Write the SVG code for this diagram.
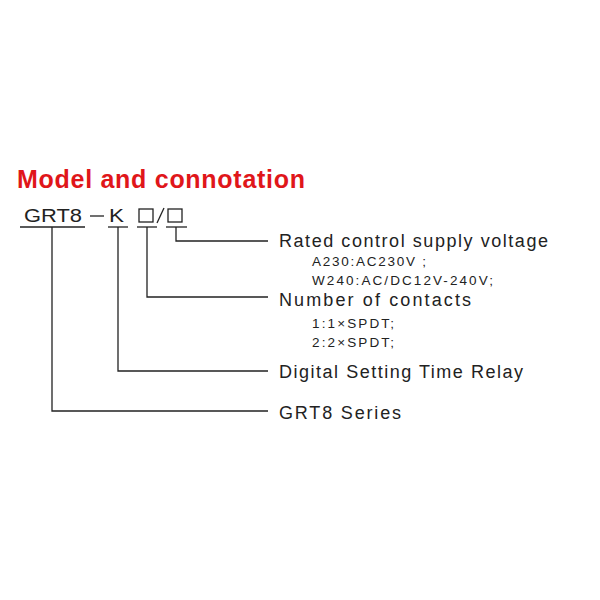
<svg xmlns="http://www.w3.org/2000/svg" width="600" height="600" viewBox="0 0 600 600">
<style>
text{font-family:"Liberation Sans",Arial,sans-serif;fill:#222}
.t{font-size:18px}
.s{font-size:13.5px}
.c path,.c line{stroke:#222;stroke-width:1.3;fill:none}
</style>
<rect width="600" height="600" fill="#fff"/>
<text x="17" y="188" textLength="288" lengthAdjust="spacing" style="font-size:25px;font-weight:bold;fill:#e0161a">Model and connotation</text>
<g id="model">
<text class="t" x="24" y="222" textLength="58" lengthAdjust="spacingAndGlyphs">GRT8</text>
<text class="t" x="109" y="222" textLength="15" lengthAdjust="spacingAndGlyphs">K</text>
<line x1="90" y1="216" x2="104" y2="216" stroke="#222" stroke-width="1.3"/>
<rect x="139" y="209" width="14" height="13" fill="none" stroke="#222" stroke-width="1.3"/>
<line x1="157" y1="223" x2="164" y2="208" stroke="#222" stroke-width="1.3"/>
<rect x="168" y="209" width="14" height="13" fill="none" stroke="#222" stroke-width="1.3"/>
</g>
<g class="c" id="connectors">
<line x1="20" y1="227" x2="85" y2="227"/>
<line x1="108" y1="227" x2="128" y2="227"/>
<line x1="137" y1="227" x2="157" y2="227"/>
<line x1="166" y1="227" x2="187" y2="227"/>
<path d="M176 227V241H268"/>
<path d="M147 227V297H268"/>
<path d="M118 227V371H268"/>
<path d="M52 227V411H268"/>
</g>
<g id="supply">
<text class="t" x="279" y="247" textLength="269" lengthAdjust="spacing">Rated control supply voltage</text>
<text class="s" x="312" y="266" textLength="114" lengthAdjust="spacing">A230:AC230V ;</text>
<text class="s" x="312" y="285" textLength="181" lengthAdjust="spacing">W240:AC/DC12V-240V;</text>
</g>
<g id="contacts">
<text class="t" x="279" y="306" textLength="192" lengthAdjust="spacing">Number of contacts</text>
<text class="s" x="312" y="328" textLength="82" lengthAdjust="spacing">1:1×SPDT;</text>
<text class="s" x="312" y="347" textLength="82" lengthAdjust="spacing">2:2×SPDT;</text>
</g>
<g id="relay"><text class="t" x="279" y="378" textLength="244" lengthAdjust="spacing">Digital Setting Time Relay</text></g>
<g id="series"><text class="t" x="279" y="419" textLength="122" lengthAdjust="spacing">GRT8 Series</text></g>
</svg>
